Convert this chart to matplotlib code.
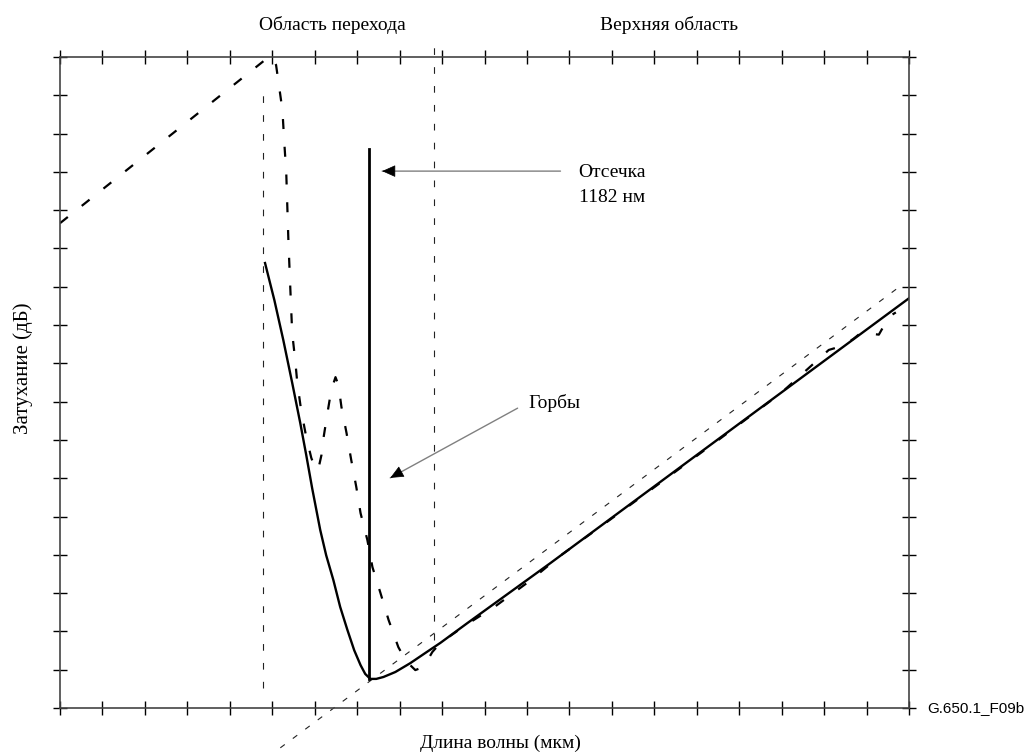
import numpy as np
import matplotlib.pyplot as plt
import matplotlib as mpl

plt.rcParams['font.family'] = 'Liberation Serif'

# smooth measured curve (solid)
sol_x = [4.83, 5.05, 5.26, 5.47, 5.66, 5.80, 5.94, 6.13, 6.27, 6.44, 6.60, 6.77,
         6.93, 7.08, 7.19, 7.31, 7.45, 7.62, 7.90, 8.25, 8.61, 8.96, 9.60, 11.56,
         15.09, 20.00]
sol_y = [11.62, 10.65, 9.61, 8.49, 7.44, 6.61, 5.74, 4.65, 3.99, 3.34, 2.64, 2.04,
         1.51, 1.12, 0.89, 0.76, 0.76, 0.81, 0.94, 1.17, 1.44, 1.70, 2.22, 3.79,
         6.68, 10.70]

# raw curve with bumps (dashed)
raw_x = [0.00, 4.86, 5.00, 5.09, 5.14, 5.24, 5.28, 5.33, 5.38, 5.42, 5.47, 5.54,
         5.59, 5.68, 5.80, 5.92, 6.01, 6.08, 6.16, 6.20, 6.30, 6.39, 6.49, 6.56,
         6.63, 6.75, 6.86, 6.98, 7.08, 7.24, 7.36, 7.55, 7.74, 7.97, 8.14, 8.25,
         8.37, 8.49, 8.66, 8.77, 8.96, 9.55, 10.26, 11.08, 11.79, 12.74, 13.92,
         15.57, 16.98, 18.11, 18.35, 18.68, 18.87, 19.29, 19.53, 19.69]
raw_y = [12.66, 16.95, 17.00, 16.79, 16.40, 15.61, 14.83, 13.97, 12.22, 11.10,
         9.79, 9.09, 8.49, 7.78, 7.08, 6.53, 6.27, 6.21, 6.61, 7.00, 7.70, 8.30,
         8.64, 8.43, 7.86, 7.18, 6.48, 5.77, 5.09, 4.39, 3.68, 3.00, 2.30, 1.59,
         1.25, 1.12, 0.99, 1.04, 1.25, 1.46, 1.70, 2.16, 2.66, 3.33, 3.98, 4.74,
         5.70, 7.05, 8.22, 9.35, 9.43, 9.63, 9.80, 9.75, 10.22, 10.33]

# cutoff marker and guide lines
cut_x = [7.28, 7.28]
cut_y = [0.76, 14.6]
reg1_x = [4.79, 4.79]
reg1_y = [0.52, 16.27]
reg2_x = [8.80, 8.80]
reg2_y = [1.78, 17.52]
asym_x = [5.19, 19.86]
asym_y = [-1.04, 11.07]

fig = plt.figure(figsize=(10.27, 7.53), dpi=100)
ax = fig.add_axes([60/1027, 45/753, 849/1027, 651/753])
ax.set_xlim(0, 20)
ax.set_ylim(0, 17)

vthin = dict(color='#222222', lw=0.8, ls=(0, (6, 11)), clip_on=False)
ax.plot(reg1_x, reg1_y, **vthin)
ax.plot(reg2_x, reg2_y, **vthin)
ax.plot(asym_x, asym_y, color='#222222', lw=0.8, ls=(0, (5, 9)), clip_on=False)

ax.plot(raw_x, raw_y, color='black', lw=1.6, ls=(0, (4.5, 8)))
ax.plot(sol_x, sol_y, color='black', lw=1.7)
ax.plot(cut_x, cut_y, color='black', lw=2.0)

for s in ax.spines.values():
    s.set_color('#444444')
    s.set_linewidth(1.2)
ax.xaxis.set_major_locator(mpl.ticker.MultipleLocator(1))
ax.yaxis.set_major_locator(mpl.ticker.MultipleLocator(1))
ax.tick_params(which='both', direction='inout', length=10, width=1, color='black',
               top=True, right=True, labelbottom=False, labelleft=False)

# annotation arrows: grey shaft, black head
shaft = dict(arrowstyle='-', color='#808080', lw=1, shrinkA=0, shrinkB=0)
head = dict(arrowstyle='-|>,head_length=0.85,head_width=0.38', color='black',
            lw=0.5, mutation_scale=10, shrinkA=0, shrinkB=0)
ax.annotate('', xy=(7.59, 14.02), xytext=(11.79, 14.02), arrowprops=shaft)
ax.annotate('', xy=(7.59, 14.02), xytext=(7.80, 14.02), arrowprops=head)
ax.annotate('', xy=(7.78, 6.01), xytext=(10.78, 7.83), arrowprops=shaft)
ax.annotate('', xy=(7.78, 6.01), xytext=(7.96, 6.12), arrowprops=head)

fs = 14
ax.text(12.22, 13.66, 'Отсечка\n1182 нм', fontsize=fs, ha='left', va='center',
        linespacing=1.65)
ax.text(11.04, 7.96, 'Горбы', fontsize=fs, ha='left', va='center')
ax.text(6.42, 17.83, 'Область перехода', fontsize=fs, ha='center', va='center')
ax.text(14.34, 17.83, 'Верхняя область', fontsize=fs, ha='center', va='center')

fig.text(23/1027, 1 - 368/753, 'Затухание (дБ)', fontsize=15, rotation=90,
         ha='center', va='center')
fig.text(500/1027, 1 - 743/753, 'Длина волны (мкм)', fontsize=fs,
         ha='center', va='center')
fig.text(927/1027, 1 - 708/753, 'G.650.1_F09b', fontsize=11,
         family='Liberation Sans', ha='left', va='center')

plt.savefig('out.png', dpi=100)
